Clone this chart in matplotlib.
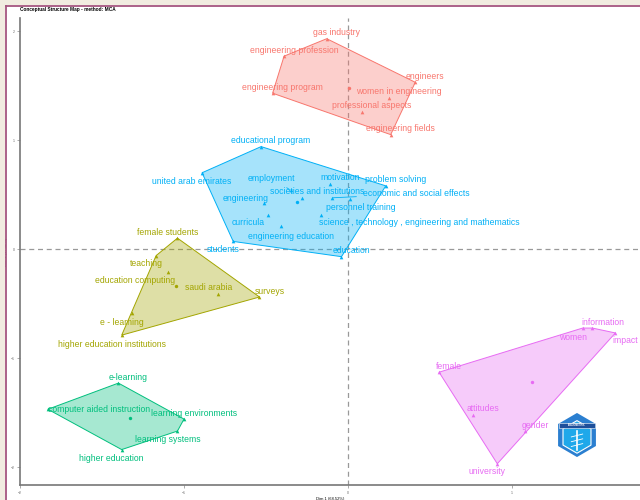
import numpy as np
import matplotlib
matplotlib.use("Agg")
import matplotlib.pyplot as plt
from matplotlib.patches import Polygon, Rectangle, RegularPolygon
from matplotlib.lines import Line2D

plt.rcParams["font.family"] = ["Liberation Sans", "DejaVu Sans"]

# word coordinates on the MCA map, grouped by cluster
words = [
    "gas industry", "engineering profession", "engineers", "women in engineering",
    "professional aspects", "engineering fields", "engineering program",
    "educational program", "united arab emirates", "employment", "societies and institutions",
    "engineering", "curricula", "engineering education", "motivation", "problem solving",
    "economic and social effects", "personnel training",
    "science , technology , engineering and mathematics", "education", "students",
    "female students", "teaching", "education computing", "saudi arabia", "surveys",
    "e - learning", "higher education institutions",
    "e-learning", "computer aided instruction", "learning environments",
    "learning systems", "higher education",
    "information", "women", "impact", "female", "attitudes", "gender", "university",
]
dim1 = [
    -0.13, -0.39, 0.41, 0.25, 0.085, 0.26, -0.46,
    -0.53, -0.89, -0.35, -0.28, -0.51, -0.49, -0.41, -0.11, 0.23, -0.10, 0.01, -0.165, -0.04, -0.70,
    -1.04, -1.17, -1.10, -0.79, -0.54, -1.32, -1.38,
    -1.40, -1.83, -1.00, -1.04, -1.38,
    1.49, 1.43, 1.63, 0.555, 0.76, 1.08, 0.91,
]
dim2 = [
    1.93, 1.77, 1.53, 1.39, 1.26, 1.05, 1.43,
    0.94, 0.70, 0.54, 0.47, 0.42, 0.31, 0.21, 0.60, 0.58, 0.47, 0.46, 0.31, -0.07, 0.07,
    0.10, -0.06, -0.21, -0.41, -0.44, -0.59, -0.79,
    -1.23, -1.47, -1.56, -1.67, -1.84,
    -0.725, -0.725, -0.77, -1.13, -1.52, -1.67, -1.97,
]
cluster = [0] * 7 + [1] * 14 + [2] * 7 + [3] * 5 + [4] * 7

cluster_colors = ["#F8766D", "#00B0F6", "#A3A500", "#00BF7D", "#E76BF3"]

# label offsets in pixels (dx right, dy down) from each point
label_offsets = {
    "united arab emirates": (-10, 9), "employment": (-19, -12),
    "societies and institutions": (15, -6), "engineering": (-19, -5),
    "curricula": (-20, 7), "engineering education": (10, 10),
    "economic and social effects": (85, -4), "personnel training": (11, 9),
    "science , technology , engineering and mathematics": (98, 7),
    "students": (-10, 8), "female students": (-10, -6), "teaching": (-10, 8),
    "education computing": (-33, 9), "saudi arabia": (-10, -6),
    "e - learning": (-10, 9), "higher education institutions": (-10, 9),
    "computer aided instruction": (51, 0), "learning systems": (-10, 8),
    "higher education": (-10, 9), "women": (-10, 9), "impact": (10, 8),
    "university": (-10, 8),
}
with_segment = ["employment", "economic and social effects"]


def convex_hull(pts):
    pts = sorted(map(tuple, pts))
    def cross(o, a, b):
        return (a[0] - o[0]) * (b[1] - o[1]) - (a[1] - o[1]) * (b[0] - o[0])
    lower, upper = [], []
    for p in pts:
        while len(lower) >= 2 and cross(lower[-2], lower[-1], p) <= 0:
            lower.pop()
        lower.append(p)
    for p in reversed(pts):
        while len(upper) >= 2 and cross(upper[-2], upper[-1], p) <= 0:
            upper.pop()
        upper.append(p)
    return lower[:-1] + upper[:-1]


fig = plt.figure(figsize=(6.4, 5), dpi=100, facecolor="white")
ax = fig.add_axes([20 / 640, 15 / 500, 620 / 640, 467 / 500])

x = np.array(dim1)
y = np.array(dim2)
cl = np.array(cluster)

ax.axvline(0, color="#999999", ls=(0, (4, 3)), lw=0.9, zorder=1)
ax.axhline(0, color="#999999", ls=(0, (4, 3)), lw=0.9, zorder=1)

for k, col in enumerate(cluster_colors):
    m = cl == k
    pts = np.column_stack([x[m], y[m]])
    hull = convex_hull(pts)
    ax.add_patch(Polygon(hull, closed=True, facecolor=col, alpha=0.35,
                         edgecolor="none", zorder=2))
    ax.add_patch(Polygon(hull, closed=True, facecolor="none", edgecolor=col,
                         lw=0.7, zorder=3))
    ax.scatter(x[m], y[m], marker="^", s=7, color=col, zorder=4, linewidths=0)
    ax.scatter([x[m].mean()], [y[m].mean()], marker="o", s=6, color=col,
               zorder=4, linewidths=0)

for w, xi, yi, k in zip(words, x, y, cl):
    dx, dy = label_offsets.get(w, (10, -6))
    col = cluster_colors[k]
    arrow = None
    if w in with_segment:
        arrow = dict(arrowstyle="-", color=col, lw=0.6, shrinkA=3, shrinkB=1)
    ax.annotate(w, xy=(xi, yi), xytext=(dx, -dy), textcoords="offset pixels",
                ha="center", va="center", fontsize=6.2, color=col,
                arrowprops=arrow, zorder=5)

ax.set_xlim(-2.0, 1.78)
ax.set_ylim(-2.165, 2.12)
ax.set_xticks([-2, -1, 0, 1])
ax.set_yticks([-2, -1, 0, 1, 2])
ax.tick_params(length=2, width=0.5, color="#888888", labelsize=2.5,
               labelcolor="#666666", pad=2)
for s in ["top", "right"]:
    ax.spines[s].set_visible(False)
for s in ["left", "bottom"]:
    ax.spines[s].set_color("#777777")
    ax.spines[s].set_linewidth(1.2)
ax.set_xlabel("Dim 1 (68.52%)", fontsize=3, labelpad=1.5)
ax.set_ylabel("Dim 2 (17.52%)", fontsize=3, labelpad=1.5)
fig.text(20 / 640, 1 - 10 / 500, "Conceptual Structure Map - method: MCA",
         fontsize=3.4, fontweight="bold", va="center", ha="left")

# bibliometrix style badge
ax_logo = fig.add_axes([558 / 640, 1 - 458 / 500, 38 / 640, 46 / 500])
ax_logo.set_xlim(-1, 1)
ax_logo.set_ylim(-1.2, 1.2)
ax_logo.axis("off")
ax_logo.add_patch(RegularPolygon((0, 0), 6, radius=1.15, facecolor="#2b7fd0",
                                 edgecolor="none"))
ax_logo.add_patch(RegularPolygon((0, -0.1), 6, radius=0.85, facecolor="#1fa8ea",
                                 edgecolor="white", lw=0.8))
ax_logo.add_patch(Rectangle((-0.95, 0.35), 1.9, 0.3, facecolor="#1e4f9a",
                            edgecolor="white", lw=0.4))
ax_logo.text(0, 0.5, "BIBLIOMETRIX", fontsize=1.8, color="white",
             ha="center", va="center", fontweight="bold")
ax_logo.plot([0, 0], [-0.8, 0.2], color="white", lw=1.2)
for yy in [-0.6, -0.35, -0.1]:
    ax_logo.plot([-0.3, 0.3], [yy, yy + 0.15], color="white", lw=0.6)

# screenshot frame: beige strip and purple border on left and top
fig.patches.append(Rectangle((0, 0), 5 / 640, 1, transform=fig.transFigure,
                             facecolor="#f1ece0", edgecolor="none", zorder=0))
fig.patches.append(Rectangle((0, 1 - 5 / 500), 1, 5 / 500, transform=fig.transFigure,
                             facecolor="#f1ece0", edgecolor="none", zorder=0))
fig.lines.append(Line2D([5.5 / 640, 5.5 / 640], [0, 1 - 5.5 / 500],
                        transform=fig.transFigure, color="#a5557f", lw=1.3))
fig.lines.append(Line2D([5.5 / 640, 1], [1 - 5.5 / 500, 1 - 5.5 / 500],
                        transform=fig.transFigure, color="#a5557f", lw=1.3))

fig.savefig("out.png", dpi=100)
